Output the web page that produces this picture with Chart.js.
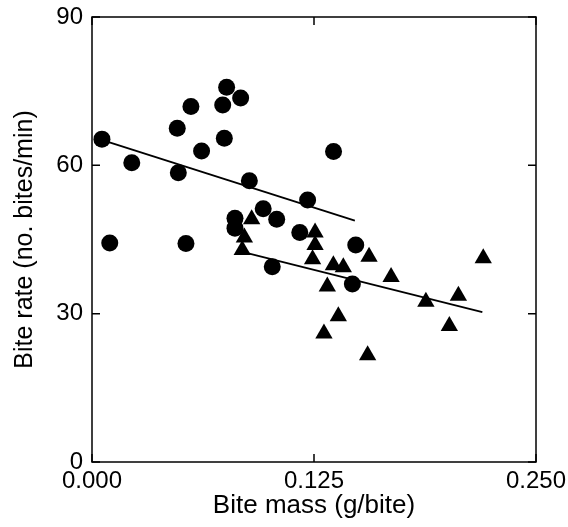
<!DOCTYPE html>
<html>
<head>
<meta charset="utf-8">
<script src="https://cdn.jsdelivr.net/npm/chart.js@4.4.1/dist/chart.umd.min.js"></script>
<style>
  html, body { margin: 0; padding: 0; background: #fff; }
  #wrap { width: 568px; height: 527px; }
</style>
</head>
<body>
<div id="wrap"><canvas id="c" width="568" height="527"></canvas></div>
<script>
// круги (первая группа) — масса укуса (г) и частота (укусов/мин)
const circleX = [0.0056, 0.010, 0.0224, 0.048, 0.0486, 0.0529, 0.0557, 0.0617, 0.0736, 0.0745,
                 0.0758, 0.0837, 0.0886, 0.0805, 0.0805, 0.0964, 0.104, 0.1015, 0.117, 0.1214,
                 0.136, 0.1485, 0.1466];
const circleY = [65.3, 44.3, 60.5, 67.5, 58.5, 44.2, 71.9, 62.9, 72.2, 65.5,
                 75.8, 73.6, 56.9, 49.3, 47.3, 51.2, 49.1, 39.5, 46.4, 53.0,
                 62.8, 43.9, 36.0];

// треугольники (вторая группа)
const triX = [0.0899, 0.0858, 0.0846, 0.1256, 0.1256, 0.1242, 0.1359, 0.1415, 0.156, 0.1325,
              0.1387, 0.1306, 0.1552, 0.1684, 0.188, 0.2063, 0.2012, 0.2203];
const triY = [49.1, 45.4, 42.9, 46.4, 43.9, 41.0, 39.8, 39.4, 41.5, 35.5,
              29.5, 26.0, 21.6, 37.4, 32.4, 33.6, 27.5, 41.2];

// линии регрессии
const fitCircleX = [0.005, 0.148];
const fitCircleY = [65.2, 48.8];
const fitTriX = [0.088, 0.2198];
const fitTriY = [42.2, 30.3];

const xTicks = [0, 0.125, 0.25];
const yTicks = [0, 30, 60, 90];

const toPts = (xs, ys) => xs.map((x, i) => ({ x: x, y: ys[i] }));

// рамка и внутренние засечки
const framePlugin = {
    id: 'frame',
    afterDraw(chart) {
        const { ctx, chartArea: a, scales } = chart;
        ctx.save();
        ctx.strokeStyle = '#000';
        ctx.lineWidth = 1.5;
        ctx.strokeRect(a.left, a.top, a.right - a.left, a.bottom - a.top);
        const len = 8;
        ctx.beginPath();
        xTicks.forEach(v => {
            const px = scales.x.getPixelForValue(v);
            ctx.moveTo(px, a.bottom); ctx.lineTo(px, a.bottom - len);
            ctx.moveTo(px, a.top); ctx.lineTo(px, a.top + len);
        });
        yTicks.forEach(v => {
            const py = scales.y.getPixelForValue(v);
            ctx.moveTo(a.left, py); ctx.lineTo(a.left + len, py);
            ctx.moveTo(a.right, py); ctx.lineTo(a.right - len, py);
        });
        ctx.stroke();
        ctx.restore();
    }
};

const font = 'Liberation Sans, Arial, Helvetica, sans-serif';

new Chart(document.getElementById('c'), {
    type: 'scatter',
    data: {
        datasets: [
            {
                data: toPts(circleX, circleY),
                pointStyle: 'circle', pointRadius: 8.5,
                backgroundColor: '#000', borderColor: '#000', borderWidth: 0
            },
            {
                data: toPts(triX, triY),
                pointStyle: 'triangle', pointRadius: 10,
                backgroundColor: '#000', borderColor: '#000', borderWidth: 0
            },
            {
                type: 'line', data: toPts(fitCircleX, fitCircleY),
                borderColor: '#000', borderWidth: 1.8, pointRadius: 0, fill: false
            },
            {
                type: 'line', data: toPts(fitTriX, fitTriY),
                borderColor: '#000', borderWidth: 1.8, pointRadius: 0, fill: false
            }
        ]
    },
    options: {
        responsive: false,
        animation: false,
        layout: { padding: { top: 17, right: 32, left: 0, bottom: 0 } },
        plugins: { legend: { display: false }, tooltip: { enabled: false } },
        scales: {
            x: {
                type: 'linear', min: 0, max: 0.25,
                afterBuildTicks: s => { s.ticks = xTicks.map(v => ({ value: v })); },
                afterFit: s => { s.height = 65; },
                grid: { display: false },
                border: { display: false },
                ticks: {
                    color: '#000', padding: -3, maxRotation: 0,
                    font: { family: font, size: 24 },
                    callback: v => v.toFixed(3)
                },
                title: {
                    display: true, text: 'Bite mass (g/bite)', color: '#000',
                    font: { family: font, size: 26 }, padding: { top: 0, bottom: 6 }
                }
            },
            y: {
                type: 'linear', min: 0, max: 90,
                afterBuildTicks: s => { s.ticks = yTicks.map(v => ({ value: v })); },
                afterFit: s => { s.width = 92; },
                grid: { display: false },
                border: { display: false },
                ticks: {
                    color: '#000', padding: 1,
                    font: { family: font, size: 24 }
                },
                title: {
                    display: true, text: 'Bite rate (no. bites/min)', color: '#000',
                    font: { family: font, size: 25 }, padding: { top: 10, bottom: 0 }
                }
            }
        }
    },
    plugins: [framePlugin]
});
</script>
</body>
</html>
